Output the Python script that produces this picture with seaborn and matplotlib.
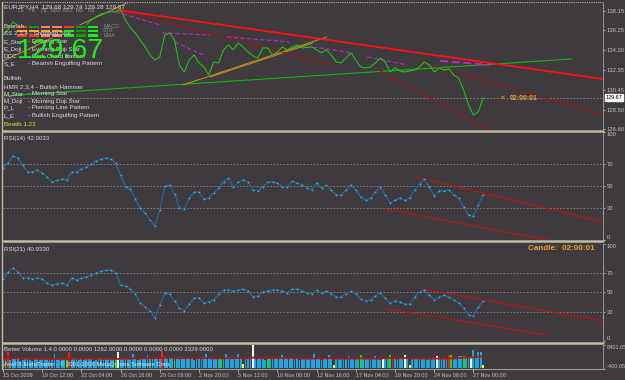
import numpy as np
import pandas as pd
import matplotlib
matplotlib.use("Agg")
import matplotlib.pyplot as plt
from matplotlib import font_manager
from matplotlib.colors import ListedColormap
from matplotlib.lines import Line2D
import seaborn as sns

# Data (EURJPY H4, 15 Oct - 27 Nov 2009)

symbol_line = "EURJPY,H4  129.68 129.74 129.28 129.67"
last_price = 129.67

date_labels = ["15 Oct 2009", "19 Oct 12:00", "22 Oct 04:00", "26 Oct 16:00",
               "29 Oct 08:00", "2 Nov 20:00", "5 Nov 12:00", "10 Nov 00:00",
               "12 Nov 16:00", "17 Nov 04:00", "19 Nov 20:00", "24 Nov 08:00",
               "27 Nov 00:00"]
label_step = 16

# close, RSI(14), RSI(21): one value every second H4 bar
close = [135.80, 136.29, 137.08, 136.78, 136.29, 136.10, 136.29, 136.10, 136.00, 135.61,
         135.80, 135.90, 136.00, 135.71, 136.29, 136.49, 136.29, 136.78, 137.27, 137.57,
         137.86, 137.96, 138.06, 138.06, 138.25, 137.27, 136.49, 136.00, 135.31, 134.63,
         133.85, 133.36, 133.65, 135.80, 136.00, 135.31, 132.87, 132.18, 133.36, 133.85,
         133.06, 132.67, 131.89, 133.16, 133.06, 134.34, 134.82, 134.34, 135.02, 134.63,
         134.14, 133.75, 133.55, 134.53, 134.53, 133.85, 134.14, 134.63, 134.34, 134.63,
         134.82, 134.53, 134.58, 134.63, 134.34, 134.04, 134.34, 133.85, 133.16, 133.06,
         133.55, 134.04, 133.36, 132.67, 132.57, 132.67, 133.06, 133.55, 133.16, 132.18,
         132.57, 132.28, 132.18, 132.28, 132.38, 132.67, 133.16, 132.87, 132.18, 132.57,
         132.38, 132.47, 131.89, 131.59, 130.42, 128.95, 127.97, 128.27, 129.67]

rsi14 = [66.7, 71.3, 77.8, 75.9, 69.4, 63.0, 63.0, 64.8, 62.0, 58.3,
         53.7, 55.1, 56.5, 55.6, 63.0, 63.0, 65.7, 67.6, 70.4, 73.1,
         75.0, 75.9, 75.0, 71.3, 60.2, 49.1, 47.2, 38.0, 29.6, 25.0,
         18.5, 13.0, 27.8, 50.0, 50.9, 42.6, 29.6, 28.7, 38.9, 44.4,
         44.4, 38.0, 38.9, 43.5, 48.1, 53.7, 57.4, 49.1, 53.7, 55.6,
         53.7, 46.3, 45.4, 49.1, 53.7, 53.7, 52.8, 49.1, 49.1, 54.6,
         52.8, 50.9, 48.6, 46.3, 52.8, 48.1, 50.9, 46.3, 41.7, 41.7,
         46.3, 50.9, 46.3, 39.8, 37.0, 38.9, 44.4, 49.1, 41.7, 34.3,
         37.0, 38.9, 37.0, 38.9, 46.3, 51.9, 56.5, 49.1, 40.7, 45.4,
         45.4, 46.3, 41.7, 38.9, 30.6, 23.1, 22.2, 32.4, 42.0]

rsi21 = [63.6, 70.8, 74.9, 70.8, 64.6, 64.6, 63.6, 64.6, 63.6, 59.5,
         57.4, 58.5, 59.5, 57.4, 64.6, 62.6, 64.6, 65.6, 67.7, 69.7,
         71.8, 72.8, 72.8, 69.7, 57.4, 56.4, 53.3, 48.2, 39.0, 34.9,
         30.8, 23.6, 36.9, 49.2, 48.2, 41.0, 33.8, 30.8, 37.9, 44.1,
         44.1, 39.0, 40.0, 42.1, 48.2, 52.3, 52.3, 51.3, 52.3, 53.3,
         51.3, 45.1, 46.2, 50.3, 51.3, 52.3, 52.3, 51.3, 49.2, 53.3,
         53.3, 51.3, 49.7, 48.2, 52.3, 49.2, 51.3, 48.2, 45.1, 45.1,
         48.2, 51.3, 48.2, 43.1, 41.0, 42.1, 46.2, 49.2, 44.1, 39.0,
         41.0, 40.0, 37.9, 37.9, 45.1, 50.3, 52.3, 47.2, 42.1, 45.1,
         47.2, 45.1, 42.1, 39.0, 33.8, 26.7, 25.6, 34.9, 40.9]

# Better Volume, one value per bar
volume = [3000, 3300, 5800, 2800, 3100, 3400, 3700, 2600, 2900, 3200, 3500, 3000, 2700, 3100, 3600, 2900,
          3100, 2800, 3400, 3700, 3000, 5100, 3300, 2900, 3200, 3500, 3000, 5800, 3000, 3400, 3100, 2800,
          3200, 2900, 3500, 3100, 3300, 2700, 3000, 3700, 3400, 3000, 3100, 3300, 3500, 2900, 3400, 5800,
          3300, 3600, 3100, 3400, 3200, 5200, 3500, 3000, 3300, 3700, 3100, 4800, 3400, 3600, 3200, 3700,
          3400, 6200, 3700, 3300, 3800, 3600, 3500, 3200, 3400, 3700, 3100, 3500, 3300, 3700, 3000, 3400,
          3600, 3300, 3200, 5200, 3500, 3700, 3400, 3100, 3300, 3600, 3500, 5000, 3200, 3700, 3400, 3100,
          5200, 3300, 1300, 3600, 3200, 3500, 8401, 3100, 3400, 3700, 3300, 3000, 3500, 3200, 3600, 3400,
          3100, 3300, 4800, 3500, 3100, 3400, 3700, 3200, 3600, 3000, 3300, 3500, 3100, 3400, 3200, 5200,
          3600, 3300, 3000, 3200, 3400, 4800, 3300, 1000, 3400, 3600, 3100, 3300, 3500, 4400, 3200, 3400,
          3100, 3300, 4800, 3400, 3200, 3500, 3100, 3300, 4500, 3600, 3000, 3800, 3200, 3400, 4800, 3700,
          3400, 3100, 3500, 3300, 4800, 3200, 1100, 3400, 3600, 3100, 3300, 3500, 3200, 3000, 3400, 3700,
          3300, 4500, 3500, 3600, 3300, 3500, 4800, 4800, 3200, 3400, 4400, 4500, 4400, 3500, 3700, 3900,
          6600, 3700, 5700, 5700, 1100]
climax_up = [2, 27, 65, 159, 182]
climax_down = [47, 102, 155, 164, 177, 191]
churn = [1, 26, 46, 70, 89, 108, 146, 158, 183, 188]
low_volume = [98, 135, 166, 196]
vol_label = "Better Volume 1.4 0.0000 0.0000 1262.0000 0.0000 0.0000 0.0000 3329.0000"

price_ticks = [138.15, 136.25, 134.30, 132.35, 130.45, 128.50, 126.60]
rsi_ticks = [100, 70, 50, 30, 0]
rsi_levels = [70, 50, 30]
vol_ticks = [8401.05, -400.05]

# trend lines drawn on the chart: ([bar, bar], [value, value])
main_red = ([46.5, 244.9], [138.25, 131.49])
main_dark_red = [([46.5, 134.7], [138.25, 132.86]),
                 ([151.0, 198.8], [132.67, 126.50]),
                 ([170.2, 244.9], [133.16, 127.97])]
main_green = ([0, 232.2], [129.83, 133.45])
main_orange = [([0, 50.6], [133.26, 138.94]),
               ([73.5, 132.2], [130.91, 135.61]),
               ([84.5, 126.5], [131.69, 135.02])]
main_magenta = [([43.7, 64.1], [138.25, 136.78]),
                ([64.9, 84.5], [136.00, 135.80]),
                ([70.2, 81.6], [135.12, 133.85]),
                ([91.4, 117.1], [135.61, 135.12]),
                ([126.5, 142.9], [134.63, 134.04]),
                ([148.6, 164.9], [133.65, 132.87]),
                ([178.4, 198.8], [133.26, 132.87])]
rsi14_lines = [([169.0, 244.9], [58.3, 16.7]), ([155.9, 222.4], [28.7, 0.0])]
rsi21_lines = [([171.4, 244.9], [53.3, 20.5]), ([155.9, 222.0], [33.3, 6.2])]

# signal dashboard
dash_rows = ["MACD", "STR", "EMA"]
dash_cols = ["D1", "H4", "H1", "M30", "M15", "M5", "M1"]
dash_state = [[0, 3, 1, 1, 0, 3, 4],
              [2, 2, 2, 2, 4, 3, 4],
              [0, 0, 1, 1, 4, 3, 4]]

bearish = [("Bearish", ""), ("SS 2,3,4 - Shooting Star", ""),
           ("E_Star", "- Evening Star"), ("E_Doji", "- Evening Doji Star"),
           ("DCC", "- Dark Cloud Pattern"), ("S_E", "- Bearish Engulfing Pattern")]
bullish = [("Bullish", ""), ("HMR 2,3,4 - Bullish Hammer", ""),
           ("M_Star", "- Morning Star"), ("M_Doji", "- Morning Doji Star"),
           ("P_L", "- Piercing Line Pattern"), ("L_E", "- Bullish Engulfing Pattern")]

# ---------------------------------------------------------------

W, H = 625, 380
bg = "#3e3a3e"
fg = "#dcdcdc"
axis_c = "#c4c4c4"
frame_c = "#bcbca4"

sns.set_theme(style="dark", rc={"figure.facecolor": bg, "axes.facecolor": bg,
                                "savefig.facecolor": bg})


def have(name):
    try:
        font_manager.findfont(name, fallback_to_default=False)
        return True
    except Exception:
        return False


narrow = "Liberation Sans Narrow" if have("Liberation Sans Narrow") else "Liberation Sans"
plt.rcParams["font.family"] = [narrow, "DejaVu Sans"]

fig = plt.figure(figsize=(W / 100, H / 100), dpi=100)
n_bars = len(volume)
xmax = 600 / 2.45
bars2 = np.arange(len(close)) * 2
bars = np.arange(n_bars)


def panel(top, bottom):
    return fig.add_axes([3 / W, 1 - bottom / H, 600 / W, (bottom - top) / H])


def style(ax):
    ax.set_facecolor(bg)
    for s in ax.spines.values():
        s.set_visible(False)
    ax.spines["right"].set_visible(True)
    ax.spines["right"].set_color("#8e8e8e")
    ax.spines["right"].set_linewidth(0.8)
    ax.yaxis.tick_right()
    ax.tick_params(axis="y", colors=axis_c, labelsize=4.2, length=1.5, width=0.6,
                   pad=1.0, right=True, left=False)
    ax.tick_params(axis="x", bottom=False, labelbottom=False)
    ax.set_xlim(0, xmax)
    ax.grid(False)
    ax.set_xlabel("")
    ax.set_ylabel("")


def ftext(x, y, s, **kw):
    kw.setdefault("va", "center")
    kw.setdefault("color", fg)
    kw.setdefault("fontsize", 4.5)
    fig.text(x / W, 1 - y / H, s, **kw)


# main price panel
ax_main = panel(3, 129.5)
ax_main.axhline(last_price, color="#8a8a8a", lw=0.6, ls=(0, (2, 2)))
sns.lineplot(x=main_green[0], y=main_green[1], ax=ax_main, color="#12b812", lw=0.8)
for xs, ys in main_orange:
    ax_main.plot(xs, ys, color="#c29628", lw=0.7)
for xs, ys in main_dark_red:
    ax_main.plot(xs, ys, color="#a81212", lw=0.7)
ax_main.plot(*main_red, color="#ff1414", lw=1.3)
for i, (xs, ys) in enumerate(main_magenta):
    ax_main.plot(xs, ys, color="#c624c6", lw=1.4 if i == len(main_magenta) - 1 else 0.8,
                 ls=(0, (4, 2)))
sns.lineplot(x=bars2, y=close, ax=ax_main, color="#1cc41c", lw=0.8)
style(ax_main)
ax_main.set_ylim(126.55, 138.93)
ax_main.set_yticks(price_ticks)
ax_main.set_yticklabels([f"{v:.2f}" for v in price_ticks])
ax_main.annotate(f"{last_price:.2f}", xy=(1.004, last_price),
                 xycoords=("axes fraction", "data"), va="center", ha="left",
                 fontsize=4.0, color="black",
                 bbox=dict(boxstyle="square,pad=0.15", fc="white", ec="white"))

# RSI(14)
ax_r14 = panel(132, 240)
for lv in rsi_levels:
    ax_r14.axhline(lv, color="#8c8c8c", lw=0.6, ls=(0, (2, 2)))
for xs, ys in rsi14_lines:
    ax_r14.plot(xs, ys, color="#c01414", lw=0.8)
sns.lineplot(x=bars2, y=rsi14, ax=ax_r14, color="#286690", lw=1.0,
             marker="o", markersize=1.3, markeredgewidth=0, markerfacecolor="#38b4e6")
style(ax_r14)
ax_r14.set_ylim(0, 100)

# RSI(21)
ax_r21 = panel(243.5, 341)
for lv in rsi_levels:
    ax_r21.axhline(lv, color="#8c8c8c", lw=0.6, ls=(0, (2, 2)))
for xs, ys in rsi21_lines:
    ax_r21.plot(xs, ys, color="#c01414", lw=0.8)
sns.lineplot(x=bars2, y=rsi21, ax=ax_r21, color="#286690", lw=1.0,
             marker="o", markersize=1.3, markeredgewidth=0, markerfacecolor="#38b4e6")
style(ax_r21)
ax_r21.set_ylim(0, 100)

for ax in (ax_r14, ax_r21):
    ax.set_yticks(rsi_ticks)
    ax.set_yticklabels([str(v) for v in rsi_ticks])
    labs = ax.get_yticklabels()
    labs[0].set_va("top")
    labs[-1].set_va("bottom")

# volume
vol = pd.DataFrame({"bar": bars, "volume": volume, "kind": "normal"})
vol.loc[climax_up, "kind"] = "climax_up"
vol.loc[climax_down, "kind"] = "climax_down"
vol.loc[churn, "kind"] = "churn"
vol.loc[low_volume, "kind"] = "low"
vol_palette = {"normal": "#1ea6e2", "climax_up": "#ff1a1a", "climax_down": "#f4f4f4",
               "churn": "#16e016", "low": "#ffff1e"}
ax_vol = panel(345, 369)
sns.barplot(data=vol, x="bar", y="volume", hue="kind", palette=vol_palette,
            native_scale=True, dodge=False, legend=False, width=0.75,
            saturation=1, linewidth=0, errorbar=None, ax=ax_vol)
vol_ma = vol["volume"].rolling(20, min_periods=1).mean()
ax_vol.plot(bars, vol_ma, color="#b01818", lw=1.3, zorder=5)
style(ax_vol)
ax_vol.set_ylim(vol_ticks[1], vol_ticks[0])
ax_vol.set_yticks(vol_ticks)
ax_vol.set_yticklabels([f"{v:.2f}" for v in vol_ticks])
ax_vol.tick_params(axis="y", labelsize=4.0)
vl = ax_vol.get_yticklabels()
vl[0].set_va("top")
vl[1].set_va("bottom")
ax_vol.spines["bottom"].set_visible(True)
ax_vol.spines["bottom"].set_color("#9a9a9a")
ax_vol.spines["bottom"].set_linewidth(0.8)
ax_vol.set_xticks(np.arange(len(date_labels)) * label_step)
ax_vol.set_xticklabels(date_labels, ha="left")
ax_vol.tick_params(axis="x", bottom=True, labelbottom=True, colors=axis_c,
                   labelsize=3.9, length=2, width=0.6, pad=1.0)

# dashboard heatmap
ax_dash = fig.add_axes([16 / W, 1 - 37.5 / H, 82.5 / W, 13 / H])
dash_cmap = ListedColormap(["#f23a2a", "#ff7e6a", "#ffa21e", "#0c9c0c", "#16f016"])
sns.heatmap(np.array(dash_state), cmap=dash_cmap, vmin=-0.5, vmax=4.5, cbar=False,
            linewidths=1.1, linecolor=bg, xticklabels=False, yticklabels=False, ax=ax_dash)
ax_dash.set_facecolor(bg)
for i, c in enumerate(dash_cols):
    ftext(20.5 + i * 11.8, 10, c, color="#8a8a8a", fontsize=3.9, ha="center")
for i, r in enumerate(dash_rows):
    ftext(103, 26 + i * 4.8, r, color="#8a8a8a", fontsize=3.9, ha="left")

# text labels
ftext(4, 7, symbol_line, fontsize=4.6)
ys_bear = [27, 33.5, 42, 49, 57, 64]
ys_bull = [79, 86.5, 94, 101, 108, 116]
for (a, b), y in zip(bearish + bullish, ys_bear + ys_bull):
    ftext(4, y, a)
    if b:
        ftext(28, y, b)
ftext(4, 125, "Beatih 1.23", color="#e6e61e")
ftext(17, 51.5, f"{last_price:.2f}", color="#1cf01c", fontsize=20.5)

ftext(501, 99, "<", color="#e8a23a", fontsize=4.8, fontweight="bold")
ftext(510, 99, "02:00:01", color="#e8a23a", fontsize=5.0, fontweight="bold")
ftext(595, 248, "Candle:  02:00:01", color="#e8a23a", fontsize=5.8, fontweight="bold",
      ha="right")

ftext(4, 138.5, "RSI(14) 42.0033", fontsize=4.4)
ftext(4, 249.5, "RSI(21) 40.9330", fontsize=4.4)
ftext(4, 349.5, vol_label, fontsize=4.3)
ftext(4, 364, "AvaFX MetaTrader - \u00a9 2001-2009 MetaQuotes Software Corp.",
      fontsize=4.3, color="#e8e8e8")

# frame lines between the panels
for y in (130.8, 241.3, 343.0):
    fig.add_artist(Line2D([3 / W, 603 / W], [1 - y / H] * 2, transform=fig.transFigure,
                          color=frame_c, lw=1.8))
fig.add_artist(Line2D([2 / W, 2 / W], [1 - 369 / H, 1 - 1.5 / H], transform=fig.transFigure,
                      color=frame_c, lw=1.0))
fig.add_artist(Line2D([2 / W, 603 / W], [1 - 1.5 / H] * 2, transform=fig.transFigure,
                      color=frame_c, lw=0.8, ls=(0, (1, 1))))

fig.savefig("out.png", dpi=100, facecolor=bg)
